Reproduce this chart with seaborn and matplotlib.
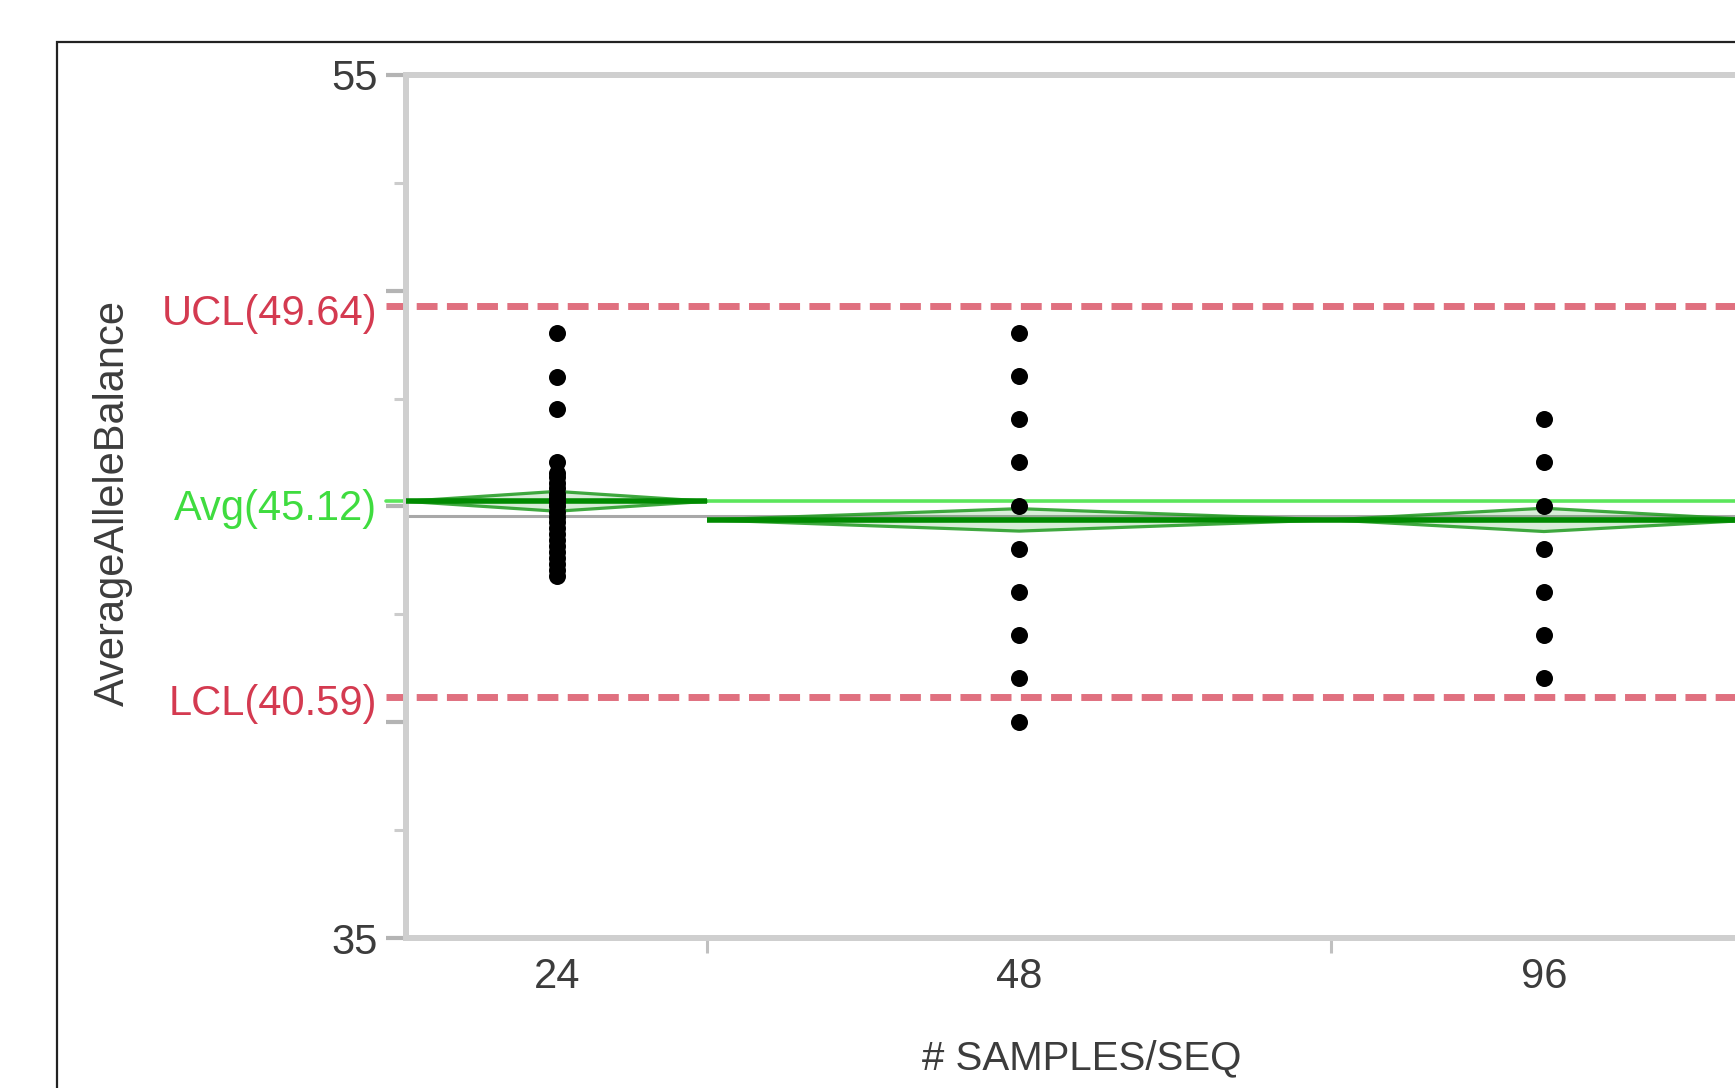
import numpy as np
import pandas as pd
import matplotlib
matplotlib.use('Agg')
import matplotlib.pyplot as plt
import matplotlib.transforms as mtransforms
from matplotlib.patches import Rectangle, Polygon
import seaborn as sns

# ---------------- data ----------------
groups = ['24', '48', '96']
group_n = [29, 60, 41]                     # group sizes (set the widths of the x-bins)
vals_24 = [49.02, 48.00, 47.26, 46.03, 45.78, 45.68, 45.55, 45.42, 45.30, 45.20,
           45.10, 45.00, 44.88, 44.76, 44.64, 44.50, 44.36, 44.22, 44.08, 43.94,
           43.80, 43.66, 43.52, 43.40]
vals_48 = [49.02, 48.02, 47.02, 46.02, 45.02, 44.02, 43.02, 42.02, 41.02, 40.01]
vals_96 = [47.03, 46.03, 45.02, 44.02, 43.02, 42.02, 41.02]
group_means = [45.12, 44.69, 44.69]
group_ci = [0.23, 0.26, 0.27]
grand_mean = 44.78
ucl_value = 49.64
avg_value = 45.12
lcl_value = 40.59
y_ticks = [35, 40, 45, 50, 55]
y_tick_labels = ['35', '', '', '', '55']
y_minor_ticks = [37.5, 42.5, 47.5, 52.5]
x_title = '# SAMPLES/SEQ'
y_title = 'AverageAlleleBalance'

# ---------------- style ----------------
sns.set_style('white')
plt.rcParams['font.family'] = ['Liberation Sans', 'DejaVu Sans']

FS = 30
TXT = '#3c3c3c'

fig = plt.figure(figsize=(17.35, 10.88), dpi=100)
fig.patch.set_facecolor('white')
ax = fig.add_axes([406 / 1735, 150 / 1088, 1351 / 1735, 863 / 1088])
ax.set_facecolor('white')

# outer black frame (extends beyond the figure to the right/bottom)
fig.patches.append(Rectangle((57 / 1735, -0.2), 1.3, 1 - 42 / 1088 + 0.2,
                             transform=fig.transFigure, fill=False,
                             edgecolor='#222222', lw=1.6, zorder=0))

edges = np.concatenate([[0], np.cumsum(group_n)]).astype(float)
centers = (edges[:-1] + edges[1:]) / 2
center_map = dict(zip(groups, centers))

df = pd.DataFrame({
    'group': ['24'] * len(vals_24) + ['48'] * len(vals_48) + ['96'] * len(vals_96),
    'value': vals_24 + vals_48 + vals_96,
})
df['x'] = df['group'].map(center_map)

# reference lines
ax.axhline(ucl_value, xmin=-20 / 1351, xmax=1, color='#e0707f', lw=5.0,
           ls=(0, (3.0, 1.35)), clip_on=False, zorder=2)
ax.axhline(lcl_value, xmin=-20 / 1351, xmax=1, color='#e0707f', lw=5.0,
           ls=(0, (3.0, 1.35)), clip_on=False, zorder=2)
ax.axhline(avg_value, xmin=-20 / 1351, xmax=1, color='#5ce65c', lw=2.6,
           clip_on=False, zorder=2)
ax.axhline(grand_mean, color='#a8a8a8', lw=2.2, zorder=2.5)

# means diamonds
for i, g in enumerate(groups):
    x0, x1, xc = edges[i], edges[i + 1], centers[i]
    m, h = group_means[i], group_ci[i]
    ax.add_patch(Polygon([(x0, m), (xc, m + h), (x1, m), (xc, m - h)],
                         closed=True, facecolor='#2aa02a', alpha=0.18,
                         edgecolor='none', zorder=3))
    ax.add_patch(Polygon([(x0, m), (xc, m + h), (x1, m), (xc, m - h)],
                         closed=True, fill=False, edgecolor='#1f9a1f',
                         lw=2.3, alpha=0.85, zorder=3))
    ax.plot([x0, x1], [m, m], color='#008a00', lw=4.0, zorder=3.5,
            solid_capstyle='butt')

# points
sns.scatterplot(data=df, x='x', y='value', color='black', s=150, linewidth=0,
                legend=False, ax=ax, zorder=5)

ax.set_xlim(edges[0], edges[-1])
ax.set_ylim(35, 55)

# y axis ticks
ax.set_yticks(y_ticks)
ax.set_yticklabels(y_tick_labels)
ax.set_yticks(y_minor_ticks, minor=True)
ax.tick_params(axis='y', which='major', direction='out', length=14.4, width=3,
               color='#b4b4b4', pad=5.8, labelsize=FS, labelcolor=TXT, left=True)
ax.tick_params(axis='y', which='minor', direction='out', length=8.6, width=2.2,
               color='#cccccc', left=True)

# x axis ticks: boundaries (marks), centers (labels)
ax.set_xticks(edges[1:-1])
ax.set_xticklabels([''] * (len(edges) - 2))
ax.set_xticks(centers, labels=groups, minor=True)
ax.tick_params(axis='x', which='major', direction='out', length=11, width=2.2,
               color='#c0c0c0', bottom=True)
ax.tick_params(axis='x', which='minor', length=0, pad=14, labelsize=FS,
               labelcolor=TXT, bottom=True)

# control limit labels
trans = mtransforms.blended_transform_factory(ax.transAxes, ax.transData)
trans_off = mtransforms.offset_copy(trans, fig=fig, x=0, y=-3, units='dots')
lab_x = -29 / 1351
ax.text(lab_x, ucl_value, f'UCL({ucl_value:.2f})', transform=trans_off, ha='right',
        va='center_baseline', color='#d43a50', fontsize=FS)
ax.text(lab_x, avg_value, f'Avg({avg_value:.2f})', transform=trans_off, ha='right',
        va='center_baseline', color='#3fdc3f', fontsize=FS)
ax.text(lab_x, lcl_value, f'LCL({lcl_value:.2f})', transform=trans_off, ha='right',
        va='center_baseline', color='#d43a50', fontsize=FS)

# axis titles
ax.set_xlabel(x_title, fontsize=FS - 1, color=TXT)
ax.xaxis.set_label_coords(0.5, -0.1344)
ax.xaxis.label.set_va('center_baseline')
ax.set_ylabel(y_title, fontsize=FS, color=TXT)
ax.yaxis.set_label_coords(-0.2169, 0.504)
ax.yaxis.label.set_va('center')

# spines
for s in ['left', 'bottom', 'top']:
    ax.spines[s].set_color('#cfcfcf')
    ax.spines[s].set_linewidth(4.3)
ax.spines['right'].set_visible(False)

fig.savefig('out.png', dpi=100)
